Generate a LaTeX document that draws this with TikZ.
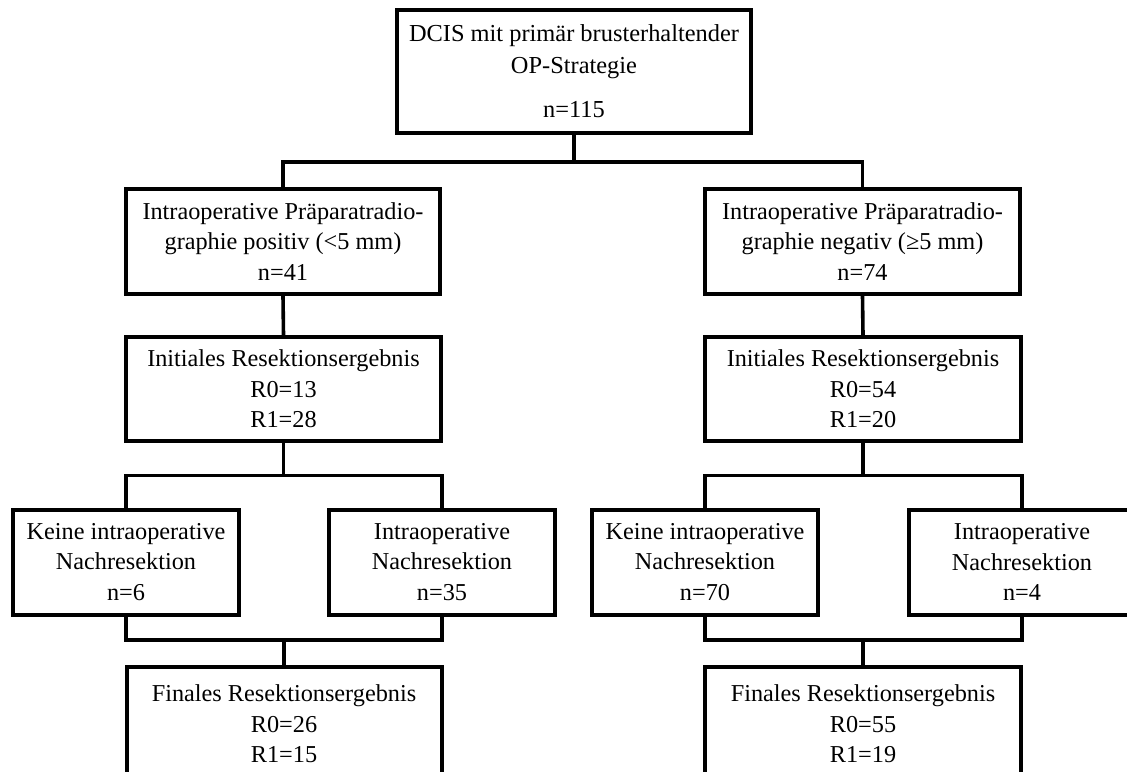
\documentclass[tikz,border=0pt]{standalone}
\usepackage{fontspec}
\setmainfont{Liberation Serif}
\begin{document}
\begin{tikzpicture}[x=0.75pt,y=-0.75pt,
  box/.style={draw=black,line width=3pt,fill=white,align=center,inner sep=0pt,
    font=\fontsize{18.2}{22.8}\selectfont},
  conn/.style={draw=black,line width=2.7pt,line join=miter}]
\useasboundingbox (0,0) rectangle (1127,771);
\clip (0,0) rectangle (1127,771);
\fill[white] (0,0) rectangle (1127,771);
% nodes
\node[box,font=\fontsize{18.3}{24}\selectfont,minimum width=354*0.75pt,minimum height=123*0.75pt] (top) at (574,71.5)
  {DCIS mit primär brusterhaltender\\ OP-Strategie\\[9pt] n=115};
\node[box,minimum width=314*0.75pt,minimum height=105*0.75pt] (midL) at (283,241.5)
  {Intraoperative Präparatradio-\\ graphie positiv (<5 mm)\\ n=41};
\node[box,minimum width=315*0.75pt,minimum height=105*0.75pt] (midR) at (862.5,241.5)
  {Intraoperative Präparatradio-\\ graphie negativ (≥5 mm)\\ n=74};
\node[box,minimum width=315*0.75pt,minimum height=104*0.75pt] (initL) at (283.5,389)
  {Initiales Resektionsergebnis\\ R0=13\\ R1=28};
\node[box,minimum width=316*0.75pt,minimum height=104*0.75pt] (initR) at (863,389)
  {Initiales Resektionsergebnis\\ R0=54\\ R1=20};
\node[box,minimum width=226*0.75pt,minimum height=105*0.75pt] (lowA) at (126,562)
  {Keine intraoperative\\ Nachresektion\\ n=6};
\node[box,minimum width=226*0.75pt,minimum height=105*0.75pt] (lowB) at (442,562)
  {Intraoperative\\ Nachresektion\\ n=35};
\node[box,minimum width=226*0.75pt,minimum height=105*0.75pt] (lowC) at (705,562)
  {Keine intraoperative\\ Nachresektion\\ n=70};
\node[box,minimum width=226*0.75pt,minimum height=105*0.75pt] (lowD) at (1022,562)
  {Intraoperative\\ Nachresektion\\ n=4};
\node[box,minimum width=315*0.75pt,minimum height=114*0.75pt] (finL) at (284,724)
  {Finales Resektionsergebnis\\ R0=26\\ R1=15};
\node[box,minimum width=316*0.75pt,minimum height=114*0.75pt] (finR) at (863,724)
  {Finales Resektionsergebnis\\ R0=55\\ R1=19};
% junctions
\coordinate (j1) at (574,162);
\coordinate (j2L) at (283.5,475.5);
\coordinate (j2R) at (863,475.5);
\coordinate (j3L) at (284,640);
\coordinate (j3R) at (863,640);
% connectors
\draw[conn] (top.south) -- (j1);
\draw[conn] (midL.north) |- (j1) -| (midR.north);
\draw[conn] (midL.south) -- (initL.north);
\draw[conn] (midR.south) -- (initR.north);
\draw[conn] (initL.south) -- (j2L);
\draw[conn] (lowA.north) |- (j2L) -| (lowB.north);
\draw[conn] (initR.south) -- (j2R);
\draw[conn] (lowC.north) |- (j2R) -| (lowD.north);
\draw[conn] (lowA.south) |- (j3L) -| (lowB.south);
\draw[conn] (j3L) -- (finL.north);
\draw[conn] (lowC.south) |- (j3R) -| (lowD.south);
\draw[conn] (j3R) -- (finR.north);
\end{tikzpicture}
\end{document}
